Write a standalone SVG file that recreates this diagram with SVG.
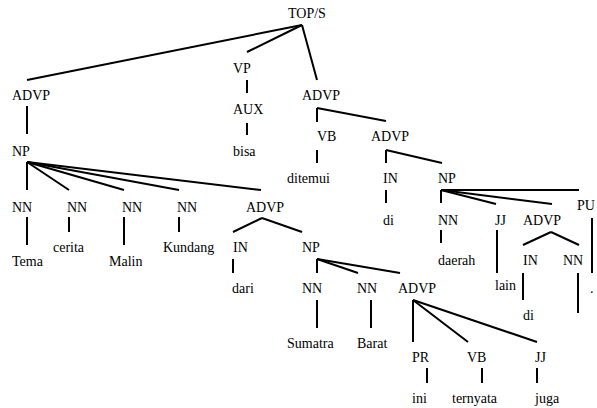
<svg xmlns="http://www.w3.org/2000/svg" width="597" height="408" viewBox="0 0 597 408">
<style>
.c line{stroke:#000;stroke-width:2;fill:none}
</style>
<rect width="597" height="408" fill="#fff"/>
<g id="connectors" class="c">
<line x1="302" y1="25" x2="27" y2="80"/>
<line x1="302" y1="25" x2="247" y2="52"/>
<line x1="302" y1="25" x2="317" y2="80"/>
<line x1="27" y1="106" x2="27" y2="134"/>
<line x1="27" y1="162" x2="27" y2="190"/>
<line x1="27" y1="162" x2="69" y2="190"/>
<line x1="27" y1="162" x2="124" y2="190"/>
<line x1="27" y1="162" x2="179" y2="190"/>
<line x1="27" y1="162" x2="261" y2="190"/>
<line x1="27" y1="217" x2="27" y2="245"/>
<line x1="69" y1="217" x2="69" y2="232"/>
<line x1="124" y1="217" x2="124" y2="245"/>
<line x1="179" y1="217" x2="179" y2="232"/>
<line x1="262" y1="218" x2="233" y2="232"/>
<line x1="262" y1="218" x2="302" y2="232"/>
<line x1="233" y1="259" x2="233" y2="273"/>
<line x1="317" y1="259" x2="317" y2="273"/>
<line x1="317" y1="259" x2="358" y2="273"/>
<line x1="317" y1="259" x2="400" y2="273"/>
<line x1="317" y1="300" x2="317" y2="328"/>
<line x1="371" y1="300" x2="371" y2="328"/>
<line x1="413" y1="300" x2="413" y2="342"/>
<line x1="413" y1="300" x2="468" y2="342"/>
<line x1="413" y1="300" x2="537" y2="342"/>
<line x1="427" y1="368" x2="427" y2="383"/>
<line x1="482" y1="368" x2="482" y2="383"/>
<line x1="537" y1="368" x2="537" y2="383"/>
<line x1="247" y1="80" x2="247" y2="93"/>
<line x1="247" y1="123" x2="247" y2="135"/>
<line x1="317" y1="108" x2="317" y2="122"/>
<line x1="317" y1="108" x2="386" y2="121"/>
<line x1="317" y1="150" x2="317" y2="163"/>
<line x1="386" y1="150" x2="386" y2="163"/>
<line x1="386" y1="150" x2="442" y2="163"/>
<line x1="386" y1="190" x2="386" y2="203"/>
<line x1="441" y1="190" x2="441" y2="203"/>
<line x1="441" y1="190" x2="496" y2="204"/>
<line x1="441" y1="190" x2="552" y2="204"/>
<line x1="441" y1="190" x2="579" y2="190"/>
<line x1="441" y1="230" x2="441" y2="243"/>
<line x1="497" y1="230" x2="497" y2="273"/>
<line x1="551" y1="232" x2="523" y2="245"/>
<line x1="551" y1="232" x2="579" y2="245"/>
<line x1="592" y1="218" x2="592" y2="273"/>
<line x1="523" y1="273" x2="523" y2="300"/>
<line x1="578" y1="273" x2="578" y2="313"/>
</g>
<g id="labels" font-family="Liberation Serif, Times New Roman, serif" font-size="14" fill="#000">
<g id="n_top"><text x="288" y="18">TOP/S</text></g>
<g id="n_advp1"><text x="12" y="100">ADVP</text></g>
<g id="n_np1"><text x="12" y="156">NP</text></g>
<g id="n_nn1"><text x="12" y="212">NN</text></g>
<g id="w_tema"><text x="12" y="266">Tema</text></g>
<g id="n_nn2"><text x="67" y="212">NN</text></g>
<g id="w_cerita"><text x="53" y="252">cerita</text></g>
<g id="n_nn3"><text x="122" y="212">NN</text></g>
<g id="w_malin"><text x="109" y="266">Malin</text></g>
<g id="n_nn4"><text x="177" y="212">NN</text></g>
<g id="w_kundang"><text x="163" y="252">Kundang</text></g>
<g id="n_advp2"><text x="246" y="212">ADVP</text></g>
<g id="n_in1"><text x="233" y="252">IN</text></g>
<g id="w_dari"><text x="232" y="293">dari</text></g>
<g id="n_np2"><text x="302" y="252">NP</text></g>
<g id="n_nn5"><text x="302" y="293">NN</text></g>
<g id="w_sumatra"><text x="287" y="348">Sumatra</text></g>
<g id="n_nn6"><text x="357" y="293">NN</text></g>
<g id="w_barat"><text x="357" y="348">Barat</text></g>
<g id="n_advp3"><text x="398" y="293">ADVP</text></g>
<g id="n_pr"><text x="412" y="362">PR</text></g>
<g id="w_ini"><text x="412" y="403">ini</text></g>
<g id="n_vb2"><text x="467" y="362">VB</text></g>
<g id="w_ternyata"><text x="452" y="403">ternyata</text></g>
<g id="n_jj2"><text x="535" y="362">JJ</text></g>
<g id="w_juga"><text x="535" y="403">juga</text></g>
<g id="n_vp"><text x="233" y="73">VP</text></g>
<g id="n_aux"><text x="233" y="114">AUX</text></g>
<g id="w_bisa"><text x="233" y="156">bisa</text></g>
<g id="n_advp4"><text x="302" y="100">ADVP</text></g>
<g id="n_vb1"><text x="317" y="141">VB</text></g>
<g id="w_ditemui"><text x="287" y="183">ditemui</text></g>
<g id="n_advp5"><text x="371" y="141">ADVP</text></g>
<g id="n_in2"><text x="383" y="183">IN</text></g>
<g id="w_di1"><text x="383" y="225">di</text></g>
<g id="n_np3"><text x="438" y="183">NP</text></g>
<g id="n_nn7"><text x="438" y="225">NN</text></g>
<g id="w_daerah"><text x="438" y="265">daerah</text></g>
<g id="n_jj1"><text x="495" y="225">JJ</text></g>
<g id="w_lain"><text x="495" y="290">lain</text></g>
<g id="n_advp6"><text x="523" y="225">ADVP</text></g>
<g id="n_in3"><text x="523" y="265">IN</text></g>
<g id="w_di2"><text x="523" y="320">di</text></g>
<g id="n_nn8"><text x="563" y="265">NN</text></g>
<g id="n_pu"><text x="577" y="210">PU</text></g>
<g id="w_dot"><text x="590" y="293">.</text></g>
</g>
</svg>
